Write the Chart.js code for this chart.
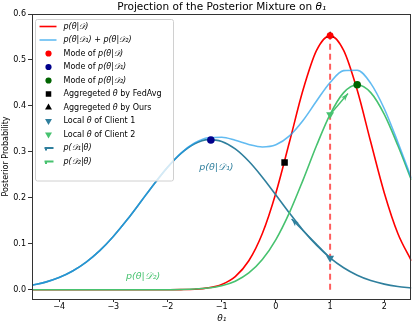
<!DOCTYPE html>
<html>
<head>
<meta charset="utf-8">
<script src="https://cdn.jsdelivr.net/npm/chart.js@4.4.1/dist/chart.umd.min.js"></script>
<style>
  html, body { margin: 0; padding: 0; background: #fff; }
</style>
</head>
<body>
<canvas id="myChart" width="416" height="325"></canvas>
<script>
const thetaGrid = [-4.5, -4.25, -4, -3.75, -3.5, -3.25, -3, -2.75, -2.5, -2.25, -2, -1.75, -1.5, -1.25, -1,
  -0.75, -0.5, -0.25, 0, 0.25, 0.5, 0.75, 1, 1.25, 1.5, 1.75, 2, 2.25, 2.5];

// p(theta|D), global posterior
const postGlobal = [0, 0, 0, 0, 0, 0, 0, 0, 0, 0, 0.0001, 0.0004, 0.0013, 0.0042, 0.0117,
  0.0288, 0.0631, 0.1225, 0.2108, 0.3214, 0.4345, 0.5207, 0.553, 0.5207, 0.4345, 0.3214, 0.2108, 0.1225, 0.0631];
// p(theta|D1) + p(theta|D2)
const postMix = [0.0100, 0.0167, 0.0266, 0.0408, 0.0602, 0.0852, 0.1160, 0.1516, 0.1904, 0.2298, 0.2666, 0.2974, 0.3193, 0.3307, 0.3318,
  0.3253, 0.3162, 0.3108, 0.3156, 0.3349, 0.3684, 0.4107, 0.4510, 0.4768, 0.4777, 0.4491, 0.3939, 0.3211, 0.2428];
// p(theta|D1), client 1
const postD1 = [0.0100, 0.0167, 0.0266, 0.0408, 0.0602, 0.0852, 0.1160, 0.1516, 0.1904, 0.2298, 0.2664, 0.2968, 0.3177, 0.3267, 0.3228,
  0.3065, 0.2796, 0.2450, 0.2063, 0.1669, 0.1297, 0.0969, 0.0695, 0.0479, 0.0317, 0.0202, 0.0124, 0.0073, 0.0041];
// p(theta|D2), client 2
const postD2 = [0, 0, 0, 0, 0, 0, 0, 0, 0, 0, 0.0002, 0.0006, 0.0016, 0.0040, 0.0090,
  0.0188, 0.0366, 0.0658, 0.1093, 0.1680, 0.2387, 0.3138, 0.3815, 0.4289, 0.4460, 0.4289, 0.3815, 0.3138, 0.2387];

// single points [theta, prob]
const modeGlobal = [1.0, 0.553];
const modeD1 = [-1.2, 0.326];
const modeD2 = [1.5, 0.446];
const fedAvgTheta = [0.16, 0.277];
const oursTheta = [1.0, 0.553];
const localClient1 = [1.0, 0.069];
const localClient2 = [1.0, 0.3815];
const dashTheta = [1.0, 1.0];
const dashProb = [0, 0.553];

// gradient arrows [start, end]
const arrowD1 = [[1.0, 0.069], [0.29, 0.154]];
const arrowD2 = [[1.0, 0.3815], [1.33, 0.427]];

const xTicks = [-4, -3, -2, -1, 0, 1, 2];
const yTicks = [0, 0.1, 0.2, 0.3, 0.4, 0.5, 0.6];

const fontFam = "'DejaVu Sans', sans-serif";
const teal = '#2f7f9d';
const green = '#47c26f';

function curve(ys) {
  return thetaGrid.map((x, i) => ({ x: x, y: ys[i] }));
}
function pt(p) {
  return [{ x: p[0], y: p[1] }];
}

// text with $..$ parts in italic, like matplotlib mathtext
function drawMathText(ctx, text, x, y, size, color, align) {
  const parts = text.split('$');
  const fonts = parts.map((p, i) => (i % 2 ? 'italic ' : '') + size + 'px ' + fontFam);
  const widths = parts.map((p, i) => { ctx.font = fonts[i]; return ctx.measureText(p).width; });
  const total = widths.reduce((a, b) => a + b, 0);
  let cx = align === 'center' ? x - total / 2 : x;
  ctx.fillStyle = color;
  ctx.textBaseline = 'middle';
  ctx.textAlign = 'left';
  parts.forEach((p, i) => {
    ctx.font = fonts[i];
    ctx.fillText(p, cx, y);
    cx += widths[i];
  });
}

function arrowHead(ctx, tip, from, color) {
  const a = Math.atan2(tip.y - from.y, tip.x - from.x);
  const len = 7.5, half = 2.6;
  ctx.save();
  ctx.translate(tip.x, tip.y);
  ctx.rotate(a);
  ctx.fillStyle = color;
  ctx.beginPath();
  ctx.moveTo(0, 0);
  ctx.lineTo(-len, -half);
  ctx.lineTo(-len * 0.75, 0);
  ctx.lineTo(-len, half);
  ctx.closePath();
  ctx.fill();
  ctx.restore();
}

const extrasPlugin = {
  id: 'extras',
  afterDatasetsDraw(chart) {
    const ctx = chart.ctx;
    const area = chart.chartArea;
    const sx = chart.scales.x, sy = chart.scales.y;

    // arrow heads for the quiver datasets
    chart.data.datasets.forEach((ds, i) => {
      if (ds.legendKind !== 'quiver') return;
      const pts = chart.getDatasetMeta(i).data;
      arrowHead(ctx, pts[pts.length - 1], pts[pts.length - 2], ds.borderColor);
    });

    // curve labels
    drawMathText(ctx, '$p(θ|𝒟₁)$', sx.getPixelForValue(-1.1), sy.getPixelForValue(0.266), 9.5, teal, 'center');
    drawMathText(ctx, '$p(θ|𝒟₂)$', sx.getPixelForValue(-2.45), sy.getPixelForValue(0.028), 9.5, green, 'center');

    // frame
    ctx.save();
    ctx.strokeStyle = '#333';
    ctx.lineWidth = 1;
    ctx.strokeRect(Math.round(area.left) + 0.5, Math.round(area.top) + 0.5,
      Math.round(area.right - area.left) - 1, Math.round(area.bottom - area.top));
    ctx.restore();

    // legend box, upper left
    const items = chart.data.datasets.filter(d => d.legendKind);
    const bx = area.left + 3.5, by = area.top + 5.5, rowH = 13.5;
    const bw = 138, bh = items.length * rowH + 13;
    ctx.save();
    ctx.fillStyle = 'rgba(255,255,255,0.8)';
    ctx.strokeStyle = '#d0d0d0';
    ctx.lineWidth = 1;
    ctx.beginPath();
    ctx.roundRect(bx, by, bw, bh, 2);
    ctx.fill();
    ctx.stroke();
    items.forEach((d, k) => {
      const cy = by + 7 + k * rowH;
      if (d.legendKind === 'line') {
        ctx.strokeStyle = d.borderColor;
        ctx.lineWidth = 1.6;
        ctx.beginPath();
        ctx.moveTo(bx + 4, cy);
        ctx.lineTo(bx + 21, cy);
        ctx.stroke();
      } else if (d.legendKind === 'marker') {
        ctx.fillStyle = d.pointBackgroundColor;
        ctx.strokeStyle = d.pointBackgroundColor;
        Chart.helpers.drawPoint(ctx, {
          pointStyle: d.pointStyle, rotation: d.pointRotation || 0,
          radius: d.legendRadius, borderWidth: 0
        }, bx + 13, cy);
      } else if (d.legendKind === 'quiver') {
        ctx.strokeStyle = d.borderColor;
        ctx.lineWidth = 2;
        ctx.beginPath();
        ctx.moveTo(bx + 9, cy);
        ctx.lineTo(bx + 18, cy);
        ctx.moveTo(bx + 10.5, cy);
        ctx.lineTo(bx + 10.5, cy + 2.5);
        ctx.stroke();
      }
      drawMathText(ctx, d.label, bx + 28, cy, 8, '#000', 'left');
    });
    ctx.restore();
  },
  afterDraw(chart) {
    // title with italic theta
    const area = chart.chartArea;
    drawMathText(chart.ctx, 'Projection of the Posterior Mixture on $θ₁$',
      (area.left + area.right) / 2, 7, 10.5, '#000', 'center');
  }
};

function lineSet(label, ys, color, order, kind) {
  return {
    label: label, data: curve(ys), showLine: true, borderColor: color, borderWidth: 1.6,
    pointRadius: 0, cubicInterpolationMode: 'monotone', order: order, legendKind: kind
  };
}
function markerSet(label, p, color, style, radius, rot, order, legendRadius) {
  return {
    label: label, data: pt(p), pointStyle: style, pointRadius: radius, pointRotation: rot,
    pointBackgroundColor: color, pointBorderColor: color, pointBorderWidth: 0,
    legendRadius: legendRadius, order: order, legendKind: 'marker'
  };
}
function quiverSet(label, seg, color) {
  return {
    label: label, data: seg.map(p => ({ x: p[0], y: p[1] })), showLine: true,
    borderColor: color, borderWidth: 1.4, pointRadius: 0, order: 5, legendKind: 'quiver'
  };
}

const datasets = [
  lineSet('$p(θ|𝒟)$', postGlobal, '#ff0000', 13, 'line'),
  lineSet('$p(θ|𝒟₁) + p(θ|𝒟₂)$', postMix, 'rgba(31,158,235,0.7)', 10, 'line'),
  markerSet('Mode of $p(θ|𝒟)$', modeGlobal, '#ff0000', 'circle', 3.4, 0, 0, 3.1),
  markerSet('Mode of $p(θ|𝒟₁)$', modeD1, '#00008b', 'circle', 3.8, 0, 1, 3.1),
  markerSet('Mode of $p(θ|𝒟₂)$', modeD2, '#006400', 'circle', 3.8, 0, 1, 3.1),
  markerSet('Aggregeted $θ$ by FedAvg', fedAvgTheta, '#000', 'rect', 4.6, 0, 2, 3.9),
  markerSet('Aggregeted $θ$ by Ours', oursTheta, '#000', 'triangle', 4.4, 0, 3, 4),
  markerSet('Local $θ$ of Client 1', localClient1, teal, 'triangle', 4.6, 180, 2, 4),
  markerSet('Local $θ$ of Client 2', localClient2, green, 'triangle', 4.6, 180, 2, 4),
  quiverSet('$p(𝒟₁|θ)$', arrowD1, teal),
  quiverSet('$p(𝒟₂|θ)$', arrowD2, green),
  lineSet('', postD1, teal, 12),
  lineSet('', postD2, green, 11),
  {
    label: '', data: dashTheta.map((x, i) => ({ x: x, y: dashProb[i] })), showLine: true,
    borderColor: 'rgba(255,40,40,0.75)', borderWidth: 2, borderDash: [6, 4], pointRadius: 0, order: 6
  }
];

const myChart = document.getElementById('myChart');
new Chart(myChart, {
  type: 'scatter',
  data: { datasets: datasets },
  options: {
    responsive: false,
    animation: false,
    layout: { padding: { top: 14, right: 2, left: 0, bottom: 0 } },
    plugins: { legend: { display: false }, tooltip: { enabled: false }, title: { display: false } },
    scales: {
      x: {
        type: 'linear', min: -4.5, max: 2.5,
        afterBuildTicks: (s) => { s.ticks = xTicks.map(v => ({ value: v })); },
        afterFit: (s) => { s.height = 26; },
        ticks: {
          color: '#000', font: { family: fontFam, size: 8 }, padding: 0, maxRotation: 0,
          callback: (v) => (v < 0 ? '\u2212' + Math.abs(v) : String(v))
        },
        grid: { drawOnChartArea: false, drawTicks: true, tickLength: 3, color: '#333' },
        border: { display: false },
        title: { display: true, text: 'θ₁', color: '#000', padding: { top: 0, bottom: 1 },
          font: { family: fontFam, size: 9, style: 'italic' } }
      },
      y: {
        type: 'linear', min: -0.02, max: 0.6,
        afterBuildTicks: (s) => { s.ticks = yTicks.map(v => ({ value: v })); },
        afterFit: (s) => { s.width = 32; },
        ticks: {
          color: '#000', font: { family: fontFam, size: 8 }, padding: 2,
          callback: (v) => v.toFixed(1)
        },
        grid: { drawOnChartArea: false, drawTicks: true, tickLength: 4, color: '#333' },
        border: { display: false },
        title: { display: true, text: 'Posterior Probability', color: '#000', padding: { top: 1, bottom: 0 },
          font: { family: fontFam, size: 8 } }
      }
    }
  },
  plugins: [extrasPlugin]
});
</script>
</body>
</html>
